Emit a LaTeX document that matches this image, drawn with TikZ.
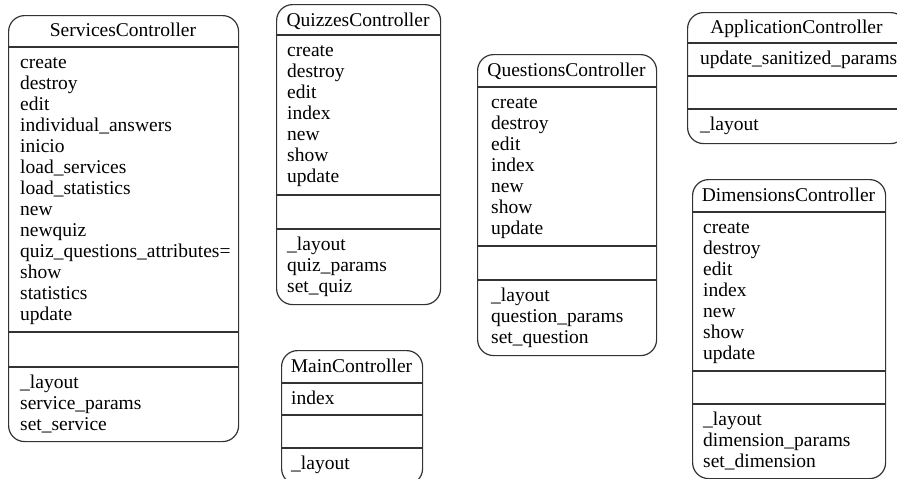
\documentclass[tikz,border=0pt]{standalone}
\usepackage{fontspec}
\setmainfont{Liberation Serif}
\begin{document}
\begin{tikzpicture}[x=1pt,y=-1pt,
  ctrl/.style={draw=black!80, line width=1.2pt, rounded corners=16pt,
    anchor=north west, inner sep=0pt, fill=none},
  sepline/.style={draw=black!80, line width=1.2pt},
  title/.style={anchor=base, inner sep=0pt, font=\fontsize{19.5}{21}\selectfont},
  items/.style={anchor=north west, inner sep=0pt, align=left,
    font=\fontsize{19.5}{21}\selectfont}]
\useasboundingbox (0,0) rectangle (897,479);

% ServicesController
\node[ctrl, minimum width=230pt, minimum height=426pt] (svc) at (8,15) {};
\draw[sepline] (8,47) -- (238,47);
\draw[sepline] (8,332) -- (238,332);
\draw[sepline] (8,367) -- (238,367);
\node[title] (svc-t) at (123,36) {ServicesController};
\node[items] (svc-m) at (20,53.8) {\strut create\\destroy\\edit\\individual\_answers\\inicio\\load\_services\\load\_statistics\\new\\newquiz\\quiz\_questions\_attributes=\\show\\statistics\\update};
\node[items] (svc-p) at (20,373.8) {\strut \_layout\\service\_params\\set\_service};

% QuizzesController
\node[ctrl, minimum width=164pt, minimum height=300pt] (quiz) at (276,4) {};
\draw[sepline] (276,35) -- (440,35);
\draw[sepline] (276,195) -- (440,195);
\draw[sepline] (276,229) -- (440,229);
\node[title] (quiz-t) at (358,26) {QuizzesController};
\node[items] (quiz-m) at (287,41.8) {\strut create\\destroy\\edit\\index\\new\\show\\update};
\node[items] (quiz-p) at (287,235.8) {\strut \_layout\\quiz\_params\\set\_quiz};

% QuestionsController
\node[ctrl, minimum width=179pt, minimum height=301pt] (qst) at (477,54) {};
\draw[sepline] (477,87) -- (656,87);
\draw[sepline] (477,246) -- (656,246);
\draw[sepline] (477,280) -- (656,280);
\node[title] (qst-t) at (566.5,76.5) {QuestionsController};
\node[items] (qst-m) at (491,93.8) {\strut create\\destroy\\edit\\index\\new\\show\\update};
\node[items] (qst-p) at (491,286.8) {\strut \_layout\\question\_params\\set\_question};

% MainController
\node[ctrl, minimum width=141pt, minimum height=134pt] (main) at (281,350) {};
\draw[sepline] (281,383) -- (422,383);
\draw[sepline] (281,415) -- (422,415);
\draw[sepline] (281,448) -- (422,448);
\node[title] (main-t) at (351.5,372) {MainController};
\node[items] (main-m) at (291,389.8) {\strut index};
\node[items] (main-p) at (291,454.8) {\strut \_layout};

% ApplicationController
\node[ctrl, minimum width=219pt, minimum height=131pt] (app) at (687,12) {};
\draw[sepline] (687,43) -- (906,43);
\draw[sepline] (687,76) -- (906,76);
\draw[sepline] (687,109) -- (906,109);
\node[title] (app-t) at (796.5,33) {ApplicationController};
\node[items] (app-m) at (700,49.8) {\strut update\_sanitized\_params};
\node[items] (app-p) at (700,115.8) {\strut \_layout};

% DimensionsController
\node[ctrl, minimum width=193pt, minimum height=299pt] (dim) at (692,179) {};
\draw[sepline] (692,212) -- (885,212);
\draw[sepline] (692,371) -- (885,371);
\draw[sepline] (692,404) -- (885,404);
\node[title] (dim-t) at (788.5,201) {DimensionsController};
\node[items] (dim-m) at (703,218.8) {\strut create\\destroy\\edit\\index\\new\\show\\update};
\node[items] (dim-p) at (703,410.8) {\strut \_layout\\dimension\_params\\set\_dimension};
\end{tikzpicture}
\end{document}
